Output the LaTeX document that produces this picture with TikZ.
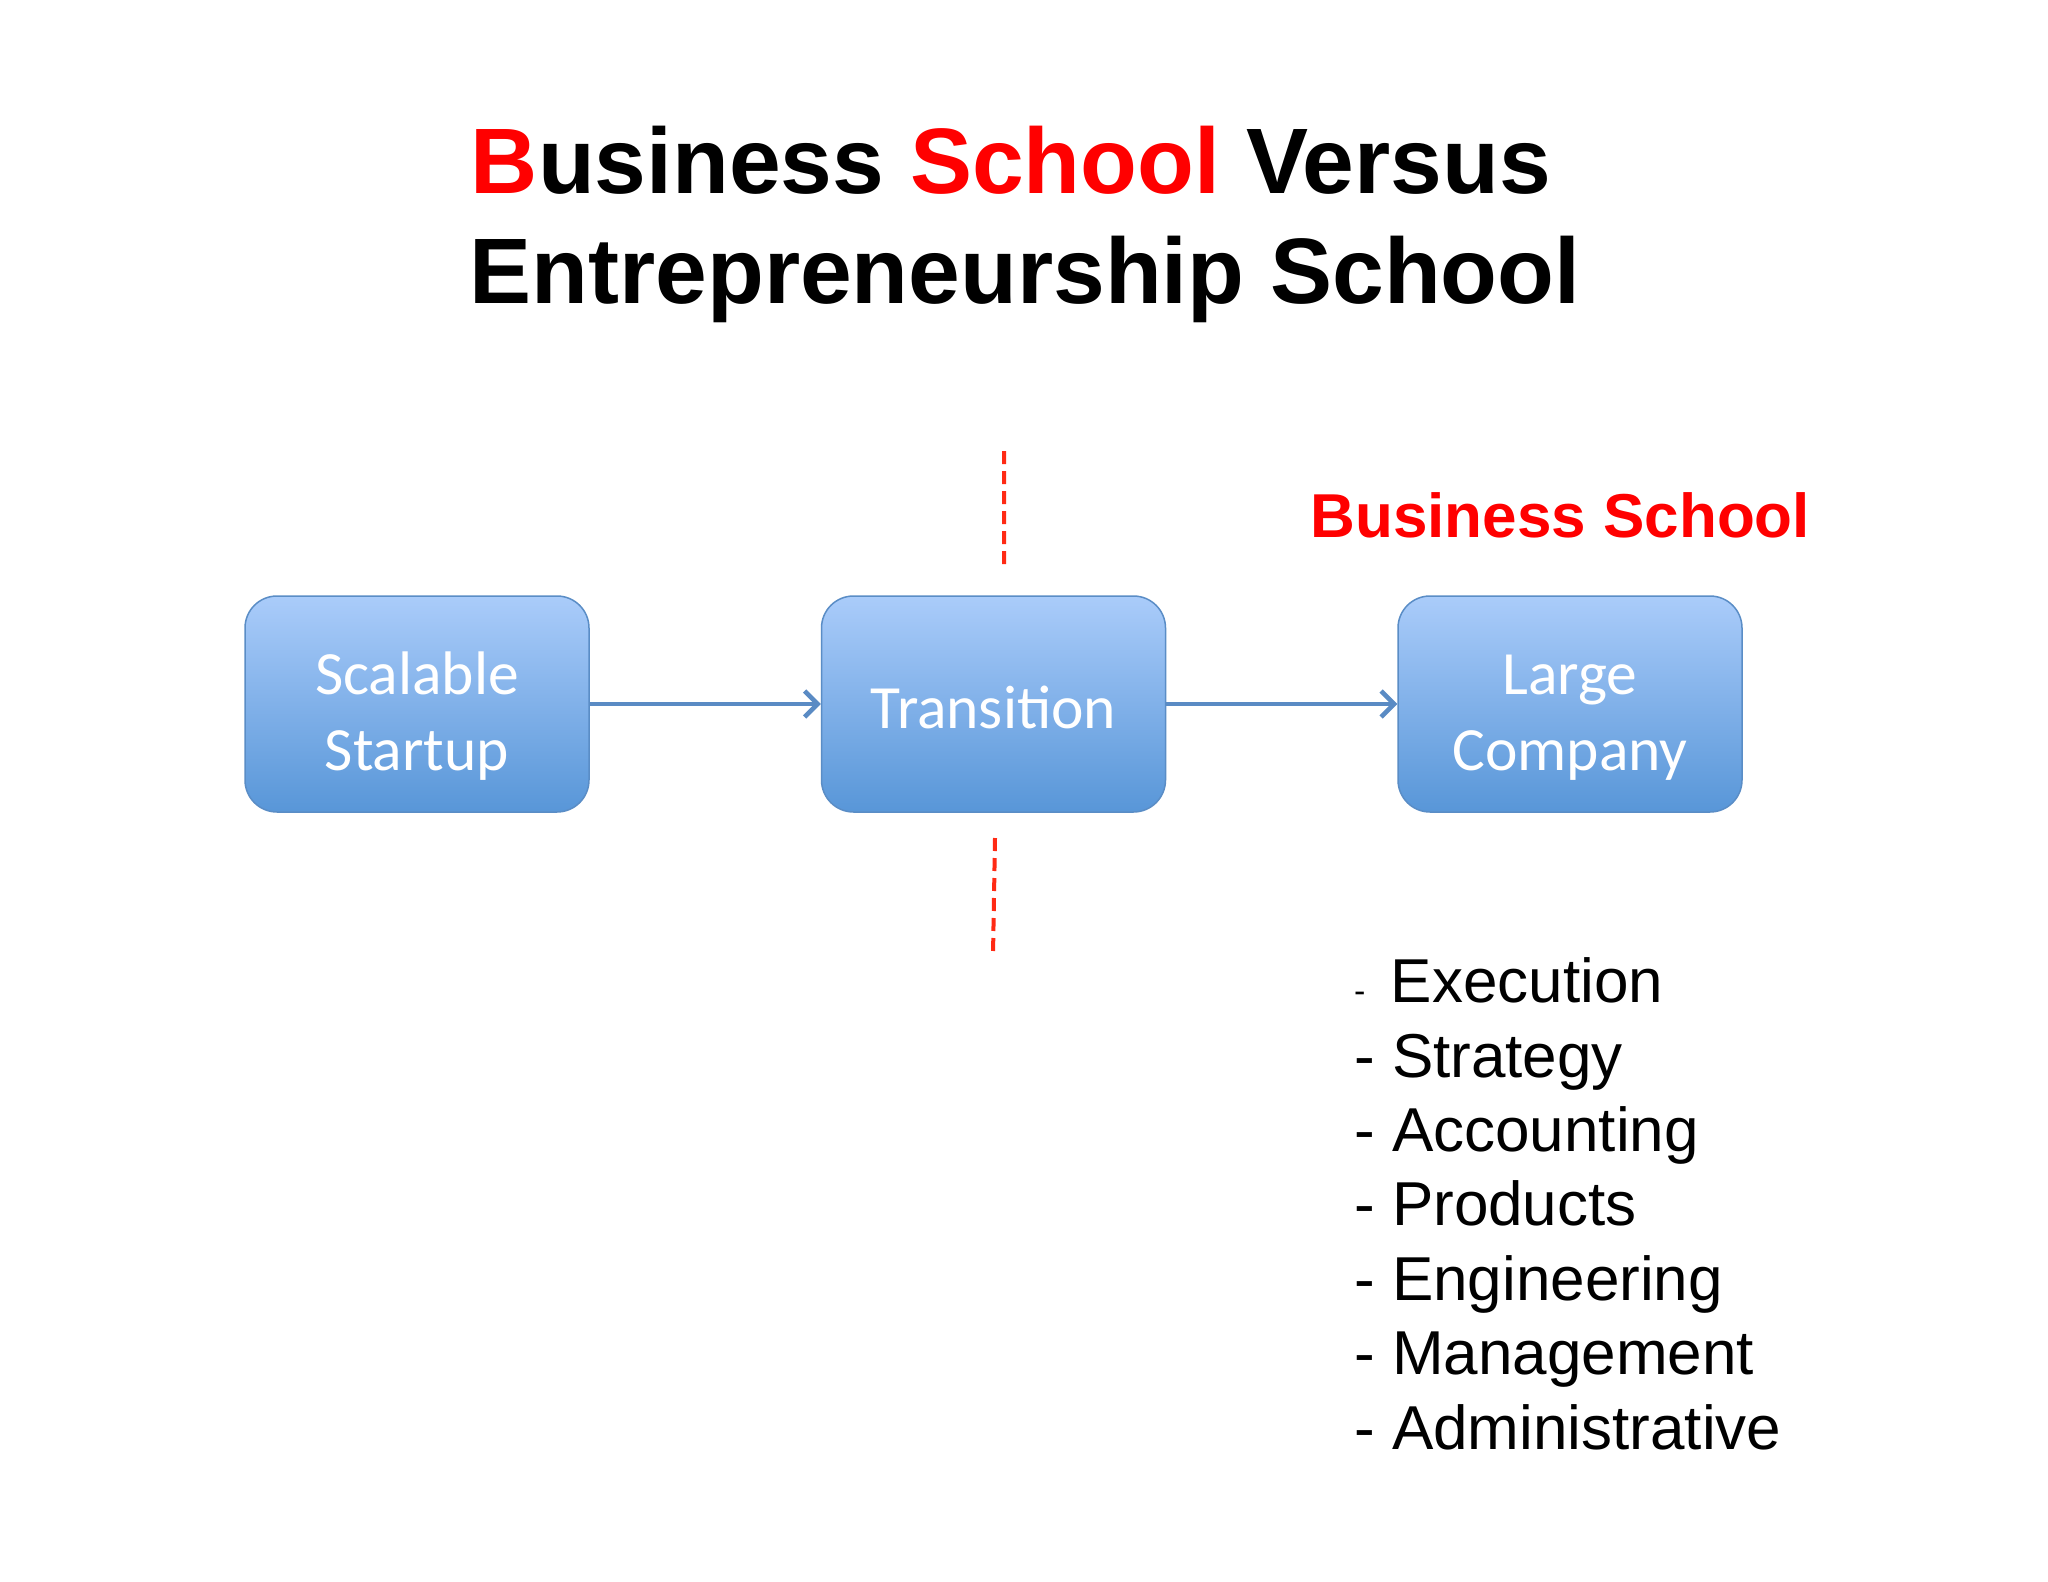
\documentclass[tikz,border=0pt]{standalone}
\usepackage{fontspec}
\setmainfont{Liberation Sans}
\newfontfamily\boxfont{Carlito}
\usetikzlibrary{arrows.meta,positioning}
\definecolor{color_box_top}{HTML}{AACCFA}
\definecolor{color_box_bottom}{HTML}{5896D8}
\definecolor{color_box_edge}{HTML}{5A8DC6}
\definecolor{color_arrow}{HTML}{5A8BC4}
\definecolor{color_school_red}{HTML}{FF0000}
\definecolor{color_cut_red}{HTML}{FF2A14}
\newcommand{\stagestrut}[1]{\rule{0pt}{#1}}

\begin{document}
\begin{tikzpicture}[x=1pt,y=-1pt,
	stagebox/.style={draw=color_box_edge,line width=1.5pt,rounded corners=32pt,
		top color=color_box_top,bottom color=color_box_bottom,
		minimum width=344pt,minimum height=216pt,inner sep=0pt,
		text=white,align=center,font=\boxfont\fontsize{61.5}{76}\selectfont},
	flowarrow/.style={color_arrow,line width=4.5pt,
		-{Straight Barb[length=13pt,width=26pt,line width=4.5pt]}},
	cutline/.style={color_cut_red,line width=4pt,dash pattern=on 13pt off 7pt}]
	\useasboundingbox (0, 0) rectangle (2048, 1582);
	\fill[white] (0, 0) rectangle (2048, 1582);

	% Title
	\node[anchor=base,font=\bfseries\fontsize{93}{110}\selectfont] (titletop) at (1011, 193)
		{\textcolor{color_school_red}{B}usiness \textcolor{color_school_red}{School} Versus};
	\node[anchor=base,font=\bfseries\fontsize{93}{110}\selectfont] (titlebottom) at (1025, 303)
		{Entrepreneurship School};

	% Stages
	\node[stagebox] (scalable) at (417, 704) {\stagestrut{66pt}Scalable\\Startup};
	\node[stagebox,right=231pt of scalable] (transition) {\stagestrut{50pt}Transition};
	\node[stagebox,right=231pt of transition] (large) {\stagestrut{66pt}Large\\Company};

	\draw[flowarrow] (scalable) -- (transition);
	\draw[flowarrow] (transition) -- (large);

	% Cut points
	\coordinate (CTA) at (1004, 451);
	\coordinate (CTB) at (1004, 568);
	\coordinate (CBA) at (995, 838);
	\coordinate (CBB) at (993, 955);
	\draw[cutline]
		(CTA) -- (CTB)
		(CBA) -- (CBB)
		;

	% Business school side
	\node[anchor=base west,text=color_school_red,font=\bfseries\fontsize{62}{74}\selectfont]
		(bschool) at (1307, 537) {Business School};
	\node[anchor=base west,align=left,inner sep=0pt,font=\fontsize{62}{74.4}\selectfont]
		(topics) at (1354, 1449)
		{{\fontsize{34}{34}\selectfont -}\hspace{8pt} Execution\\
		- Strategy\\
		- Accounting\\
		- Products\\
		- Engineering\\
		- Management\\
		- Administrative};
\end{tikzpicture}
\end{document}
